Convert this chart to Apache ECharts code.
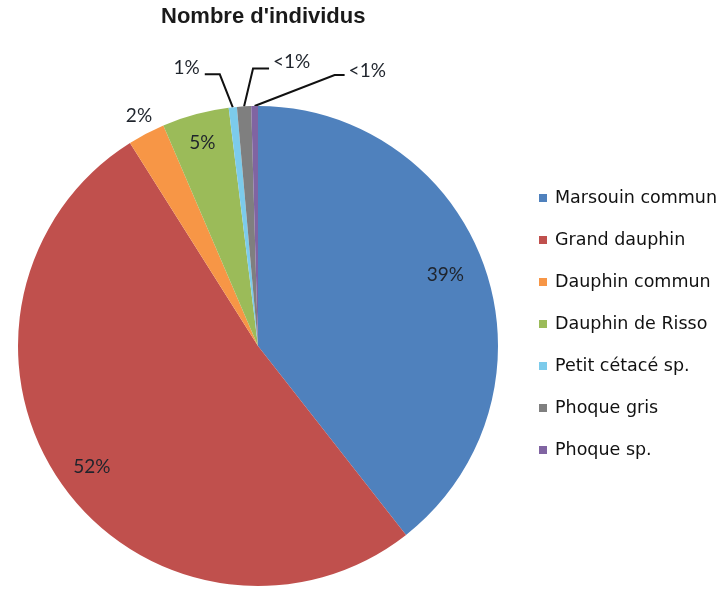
<!DOCTYPE html>
<html>
<head>
<meta charset="utf-8">
<script src="https://cdn.jsdelivr.net/npm/echarts@6/dist/echarts.min.js"></script>
<style>
  html, body { margin: 0; padding: 0; background: #ffffff; }
  #chart { width: 718px; height: 590px; }
</style>
</head>
<body>
<div id="chart"></div>
<script>
// Species observed and their share of the individuals counted (%)
const categories = [
  'Marsouin commun',
  'Grand dauphin',
  'Dauphin commun',
  'Dauphin de Risso',
  'Petit cétacé sp.',
  'Phoque gris',
  'Phoque sp.'
];
const shares = [39.4, 51.6, 2.5, 4.5, 0.55, 0.95, 0.45];
const shareLabels = ['39%', '52%', '2%', '5%', '1%', '<1%', '<1%'];

const colors = ['#4f81bd', '#c0504d', '#f79646', '#9bbb59', '#7ccbeb', '#7f7f7f', '#8064a2'];

// Pie geometry
const CX = 258, CY = 346, R = 240;
const total = shares.reduce((a, b) => a + b, 0);

function midAngle(i) {
  let cum = 0;
  for (let k = 0; k < i; k++) cum += shares[k];
  return (cum + shares[i] / 2) / total * 2 * Math.PI;
}
function polar(theta, r) {
  return [CX + r * Math.sin(theta), CY - r * Math.cos(theta)];
}

// Labels sitting on the slices: [radial distance as a fraction of the radius, angular nudge in degrees]
const labelRadius = { 0: [0.835, -1.7], 1: [0.856, -0.9], 2: [1.08, 0.4], 3: [0.877, -0.2] };
// Labels on leader lines: elbow offset from the rim, horizontal run, vertical lift of the text
const leaders = {
  4: { elbow: [-13, -33], run: -15, lift: -6 },
  5: { elbow: [9, -38], run: 16, lift: -6.5 },
  6: { elbow: [80, -31], run: 10, lift: -4 }
};

const pieData = categories.map((name, i) => {
  const item = { name: name, value: shares[i], itemStyle: { color: colors[i] } };
  if (leaders[i]) {
    item.label = { position: 'outside' };
    item.labelLine = { show: true };
  }
  return item;
});

const chart = echarts.init(document.getElementById('chart'), null, { renderer: 'canvas' });

chart.setOption({
  backgroundColor: '#ffffff',
  animation: false,
  title: {
    text: "Nombre d'individus",
    left: 161,
    top: 6,
    padding: 0,
    textStyle: {
      fontFamily: 'Liberation Sans',
      fontWeight: 'bold',
      fontSize: 22,
      color: '#1a1a1a'
    }
  },
  legend: {
    orient: 'vertical',
    left: 539,
    top: 188,
    padding: 0,
    icon: 'rect',
    itemWidth: 8,
    itemHeight: 8,
    itemGap: 22,
    data: categories,
    textStyle: {
      fontFamily: 'DejaVu Sans',
      fontSize: 17.5,
      lineHeight: 20,
      color: '#111111',
      padding: [0, 0, 0, 3]
    }
  },
  series: [{
    type: 'pie',
    center: [CX, CY],
    radius: R,
    startAngle: 90,
    clockwise: true,
    avoidLabelOverlap: false,
    selectedMode: false,
    emphasis: { disabled: true },
    itemStyle: { borderWidth: 0 },
    label: {
      show: true,
      position: 'inside',
      fontFamily: 'Lato',
      fontSize: 19,
      color: '#1f242c',
      formatter: p => shareLabels[p.dataIndex]
    },
    labelLine: {
      show: false,
      lineStyle: { color: '#111111', width: 2 }
    },
    labelLayout: function (p) {
      const i = p.dataIndex;
      const th = midAngle(i);
      if (labelRadius[i] != null) {
        const pt = polar(th + labelRadius[i][1] * Math.PI / 180, labelRadius[i][0] * R);
        return { x: pt[0], y: pt[1], align: 'center', verticalAlign: 'middle' };
      }
      const L = leaders[i];
      const p0 = polar(th, R);
      const p1 = [p0[0] + L.elbow[0], p0[1] + L.elbow[1]];
      const p2 = [p1[0] + L.run, p1[1]];
      return {
        x: p2[0] + (L.run < 0 ? -5 : 4),
        y: p2[1] + L.lift,
        align: L.run < 0 ? 'right' : 'left',
        verticalAlign: 'middle',
        labelLinePoints: [p0, p1, p2]
      };
    },
    data: pieData
  }]
});
</script>
</body>
</html>
